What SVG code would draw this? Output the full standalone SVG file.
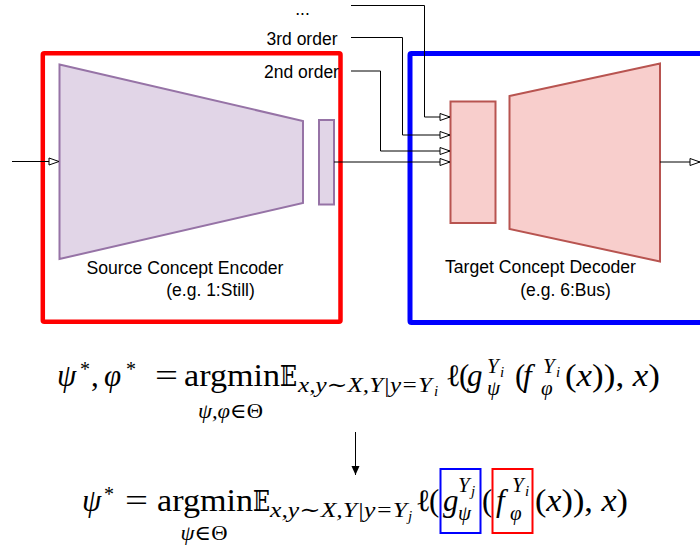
<svg xmlns="http://www.w3.org/2000/svg" width="700" height="545" viewBox="0 0 700 545">
<style>
.lbl{font-family:"Liberation Sans",Arial,sans-serif;font-size:17.5px;fill:#000}
.m{font-family:"Liberation Serif","DejaVu Serif",serif;font-size:31px;fill:#000}
.s{font-family:"Liberation Serif","DejaVu Serif",serif;font-size:21px;font-style:italic;fill:#000}
.bb{font-family:"DejaVu Serif","DejaVu Sans",serif;font-size:27px;fill:#000}
.up{font-style:normal}
.it{font-style:italic}
.wire{fill:none;stroke:#000;stroke-width:1}
.purple{fill:#e1d5e7;stroke:#9673a6;stroke-width:2}
.pink{fill:#f8cecc;stroke:#b85450;stroke-width:2}
</style>
<defs>
<marker id="open" markerUnits="userSpaceOnUse" markerWidth="12" markerHeight="10" refX="11" refY="4.5" orient="auto">
<path d="M1,1 L11,4.5 L1,8 Z" fill="#fff" stroke="#000" stroke-width="1"/>
</marker>
<marker id="solid" markerUnits="userSpaceOnUse" markerWidth="10" markerHeight="12" refX="5" refY="10" orient="0">
<path d="M1,1 L9,1 L5,10 Z" fill="#000"/>
</marker>
</defs>

<g id="source-box">
<rect x="42.8" y="53.3" width="297.7" height="268.5" rx="1.5" fill="none" stroke="#ff0000" stroke-width="4.5"/>
</g>
<g id="target-box">
<rect x="410" y="53.5" width="300" height="269" rx="1.5" fill="none" stroke="#0000ff" stroke-width="5"/>
</g>

<g id="encoder">
<polygon class="purple" points="59.5,64.5 303,121 303,203 59.5,259"/>
</g>
<g id="encoder-code">
<rect class="purple" x="319" y="120" width="15" height="84.5"/>
</g>
<g id="decoder-code">
<rect class="pink" x="450.5" y="101.5" width="45" height="121.5"/>
</g>
<g id="decoder">
<polygon class="pink" points="509.5,96 660,63.5 660,261.5 509.5,229"/>
</g>

<g id="labels">
<text class="lbl" x="185" y="274" text-anchor="middle" textLength="197" lengthAdjust="spacingAndGlyphs">Source Concept Encoder</text>
<text class="lbl" x="210.5" y="296" text-anchor="middle">(e.g. 1:Still)</text>
<text class="lbl" x="540.5" y="273" text-anchor="middle" textLength="191" lengthAdjust="spacingAndGlyphs">Target Concept Decoder</text>
<text class="lbl" x="565.5" y="296" text-anchor="middle">(e.g. 6:Bus)</text>
<text class="lbl" x="302.5" y="14.5" text-anchor="middle" font-size="14">...</text>
<text class="lbl" x="302" y="45" text-anchor="middle">3rd order</text>
<text class="lbl" x="301.5" y="78" text-anchor="middle">2nd order</text>
</g>

<g id="connectors">
<path class="wire" d="M12,161.5 L59,161.5" marker-end="url(#open)"/>
<path class="wire" d="M334,162 L450,162" marker-end="url(#open)"/>
<path class="wire" d="M351,71 L380.5,71 L380.5,151 L450,151" marker-end="url(#open)"/>
<path class="wire" d="M351,37.5 L402.5,37.5 L402.5,135 L450,135" marker-end="url(#open)"/>
<path class="wire" d="M351,5.5 L424.5,5.5 L424.5,117 L450,117" marker-end="url(#open)"/>
<path class="wire" d="M660,162 L700,162" marker-end="url(#open)"/>
<path class="wire" d="M355.5,432 L355.5,475" marker-end="url(#solid)"/>
</g>

<g id="equation-1">
<text class="m" y="386"><tspan class="it" x="57">ψ</tspan><tspan x="80" y="376" font-size="20">*</tspan><tspan x="91" y="386">,</tspan><tspan class="it" x="104">φ</tspan><tspan x="126" y="376" font-size="20">*</tspan></text>
<text class="m" x="155" y="386" textLength="23" lengthAdjust="spacingAndGlyphs">=</text>
<text class="m" x="184" y="386" textLength="96" lengthAdjust="spacingAndGlyphs">argmin</text>
<text class="bb" x="280" y="386" textLength="17" lengthAdjust="spacingAndGlyphs">𝔼</text>
<text class="s" y="392"><tspan x="298" textLength="134" lengthAdjust="spacingAndGlyphs">x,y∼X,Y|y=Y</tspan><tspan x="434" y="396" font-size="15">i</tspan></text>
<text class="m" y="386"><tspan x="446">ℓ</tspan><tspan x="459">(</tspan><tspan class="it" x="467">g</tspan></text>
<text class="s" y="373"><tspan x="487">Y</tspan><tspan x="500" y="377" font-size="15">i</tspan><tspan x="487" y="395">ψ</tspan></text>
<text class="m" y="386"><tspan x="515">(</tspan><tspan class="it" x="523">f</tspan></text>
<text class="s" y="373"><tspan x="543">Y</tspan><tspan x="556" y="377" font-size="15">i</tspan><tspan x="541" y="395">φ</tspan></text>
<text class="m" x="565" y="386" textLength="95" lengthAdjust="spacingAndGlyphs">(<tspan class="it">x</tspan>)), <tspan class="it">x</tspan>)</text>
<text class="s" x="230.5" y="418" text-anchor="middle" textLength="65" lengthAdjust="spacingAndGlyphs">ψ,φ<tspan class="up">∈Θ</tspan></text>
</g>

<g id="equation-2">
<text class="m" y="511"><tspan class="it" x="82">ψ</tspan><tspan x="104" y="501" font-size="20">*</tspan></text>
<text class="m" x="125" y="511" textLength="23" lengthAdjust="spacingAndGlyphs">=</text>
<text class="m" x="157" y="511" textLength="96" lengthAdjust="spacingAndGlyphs">argmin</text>
<text class="bb" x="253" y="511" textLength="17" lengthAdjust="spacingAndGlyphs">𝔼</text>
<text class="s" y="517"><tspan x="270" textLength="137" lengthAdjust="spacingAndGlyphs">x,y∼X,Y|y=Y</tspan><tspan x="408" y="521" font-size="15">j</tspan></text>
<text class="m" y="511"><tspan x="416">ℓ</tspan><tspan x="429">(</tspan><tspan class="it" x="443">g</tspan></text>
<text class="s" y="492"><tspan x="458">Y</tspan><tspan x="471" y="496" font-size="15">j</tspan><tspan x="458" y="520">ψ</tspan></text>
<text class="m" y="511"><tspan x="482">(</tspan><tspan class="it" x="496">f</tspan></text>
<text class="s" y="492"><tspan x="512">Y</tspan><tspan x="525" y="496" font-size="15">i</tspan><tspan x="510" y="520">φ</tspan></text>
<text class="m" x="535" y="511" textLength="93" lengthAdjust="spacingAndGlyphs">(<tspan class="it">x</tspan>)), <tspan class="it">x</tspan>)</text>
<text class="s" x="204" y="540" text-anchor="middle" textLength="47" lengthAdjust="spacingAndGlyphs">ψ<tspan class="up">∈Θ</tspan></text>
<rect x="440.5" y="469" width="40" height="64" fill="none" stroke="#0000ff" stroke-width="2"/>
<rect x="492.5" y="469" width="40" height="64" fill="none" stroke="#ff0000" stroke-width="2"/>
</g>
</svg>
